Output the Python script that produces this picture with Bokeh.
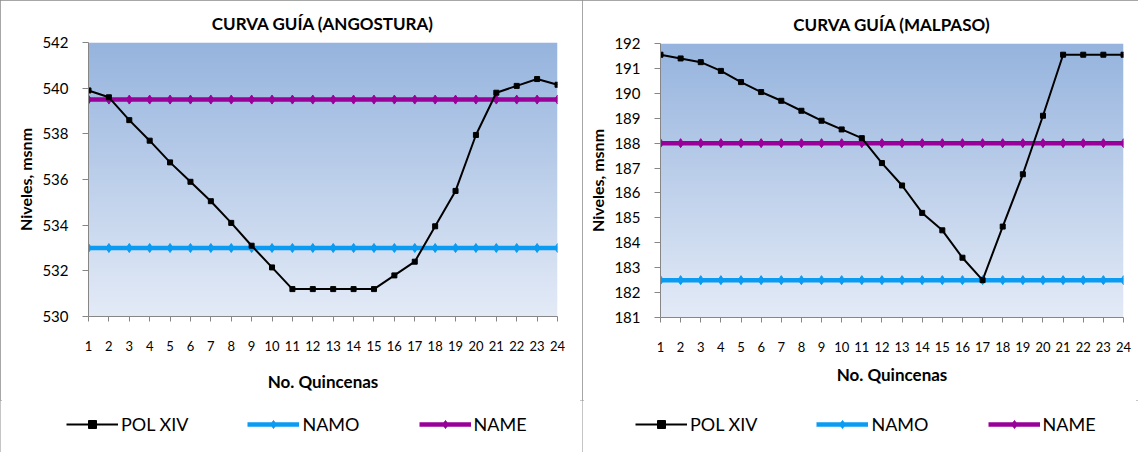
from bokeh.plotting import figure
from bokeh.models import Range1d, FixedTicker, Legend
from bokeh.layouts import row, column
from bokeh.embed import file_html
from bokeh.resources import INLINE
import numpy as np

# ---------------- data ----------------
quincenas = list(range(1, 25))
quincena_labels = [str(q) for q in quincenas]

ang_title = "CURVA GUÍA (ANGOSTURA)"
ang_pol = [539.9, 539.6, 538.6, 537.7, 536.75, 535.9, 535.05, 534.1, 533.1, 532.15,
           531.2, 531.2, 531.2, 531.2, 531.2, 531.8, 532.4, 533.95, 535.5, 537.95,
           539.8, 540.1, 540.4, 540.15]
ang_namo = [533.0, 533.0, 533.0, 533.0, 533.0, 533.0, 533.0, 533.0, 533.0, 533.0,
            533.0, 533.0, 533.0, 533.0, 533.0, 533.0, 533.0, 533.0, 533.0, 533.0,
            533.0, 533.0, 533.0, 533.0]
ang_name = [539.5, 539.5, 539.5, 539.5, 539.5, 539.5, 539.5, 539.5, 539.5, 539.5,
            539.5, 539.5, 539.5, 539.5, 539.5, 539.5, 539.5, 539.5, 539.5, 539.5,
            539.5, 539.5, 539.5, 539.5]
ang_ticks = [530, 532, 534, 536, 538, 540, 542]

mal_title = "CURVA GUÍA (MALPASO)"
mal_pol = [191.55, 191.4, 191.25, 190.9, 190.45, 190.05, 189.7, 189.3, 188.9, 188.55,
           188.2, 187.2, 186.3, 185.2, 184.5, 183.4, 182.5, 184.65, 186.75, 189.1,
           191.55, 191.55, 191.55, 191.55]
mal_namo = [182.5, 182.5, 182.5, 182.5, 182.5, 182.5, 182.5, 182.5, 182.5, 182.5,
            182.5, 182.5, 182.5, 182.5, 182.5, 182.5, 182.5, 182.5, 182.5, 182.5,
            182.5, 182.5, 182.5, 182.5]
mal_name = [188.0, 188.0, 188.0, 188.0, 188.0, 188.0, 188.0, 188.0, 188.0, 188.0,
            188.0, 188.0, 188.0, 188.0, 188.0, 188.0, 188.0, 188.0, 188.0, 188.0,
            188.0, 188.0, 188.0, 188.0]
mal_ticks = [181, 182, 183, 184, 185, 186, 187, 188, 189, 190, 191, 192]

series_names = ["POL XIV", "NAMO", "NAME"]
x_title = "No. Quincenas"
y_title = "Niveles, msnm"

FONT = "Lato"
C_POL = "#000000"
C_NAMO = "#0A9BF2"
C_NAME = "#990099"
AXIS_C = "#868686"
FRAME_STYLE = {"outline": "2px solid #8a8a8a", "outline-offset": "-2px"}


def gradient_image(n=256):
    top = np.array([150, 180, 222])
    bot = np.array([228, 235, 247])
    t = np.linspace(0, 1, n)[:, None]
    cols = (bot * (1 - t) + top * t).astype(np.uint32)
    img = np.zeros((n, 1), dtype=np.uint32)
    view = img.view(dtype=np.uint8).reshape((n, 1, 4))
    view[:, 0, 0] = cols[:, 0]
    view[:, 0, 1] = cols[:, 1]
    view[:, 0, 2] = cols[:, 2]
    view[:, 0, 3] = 255
    return img


def draw_series(p, pol, namo, name):
    r_namo_l = p.line(quincenas, namo, line_color=C_NAMO, line_width=4.5)
    r_namo_m = p.scatter(quincenas, namo, marker="diamond", size=9,
                         fill_color=C_NAMO, line_color=C_NAMO)
    r_name_l = p.line(quincenas, name, line_color=C_NAME, line_width=4.5)
    r_name_m = p.scatter(quincenas, name, marker="diamond", size=9,
                         fill_color=C_NAME, line_color=C_NAME)
    r_pol_l = p.line(quincenas, pol, line_color=C_POL, line_width=2)
    r_pol_m = p.scatter(quincenas, pol, marker="square", size=5,
                        fill_color=C_POL, line_color=C_POL)
    return [(series_names[0], [r_pol_l, r_pol_m]),
            (series_names[1], [r_namo_l, r_namo_m]),
            (series_names[2], [r_name_l, r_name_m])]


def make_chart(title, pol, namo, name, ticks, width, bl, br, bt, bb,
               xlab_standoff, leg_x):
    y0, y1 = ticks[0], ticks[-1]
    p = figure(width=width, height=400, output_backend="svg", toolbar_location=None,
               x_range=Range1d(quincenas[0], quincenas[-1]), y_range=Range1d(y0, y1),
               min_border_left=bl, min_border_right=br, min_border_top=bt,
               min_border_bottom=bb, title=title)
    p.frame_align = False
    p.background_fill_color = "white"
    p.border_fill_color = "white"
    p.outline_line_color = None
    p.grid.visible = False

    p.title.text_font = FONT
    p.title.text_font_size = "17px"
    p.title.text_font_style = "bold"
    p.title.align = "center"
    p.title.text_color = "black"
    p.title.standoff = 17

    p.image_rgba(image=[gradient_image()], x=quincenas[0], y=y0,
                 dw=quincenas[-1] - quincenas[0], dh=y1 - y0)

    xa = p.xaxis[0]
    xa.ticker = FixedTicker(ticks=quincenas)
    xa.major_label_overrides = {q: l for q, l in zip(quincenas, quincena_labels)}
    xa.minor_tick_line_color = None
    xa.major_tick_in = 0
    xa.major_tick_out = 5
    xa.axis_line_color = AXIS_C
    xa.major_tick_line_color = AXIS_C
    xa.major_label_text_font = FONT
    xa.major_label_text_font_size = "13px"
    xa.major_label_text_color = "black"
    xa.major_label_standoff = 19
    xa.axis_label = x_title
    xa.axis_label_text_font = FONT
    xa.axis_label_text_font_size = "17px"
    xa.axis_label_text_font_style = "bold"
    xa.axis_label_text_color = "black"
    xa.axis_label_standoff = xlab_standoff

    ya = p.yaxis[0]
    ya.ticker = FixedTicker(ticks=ticks)
    ya.minor_tick_line_color = None
    ya.major_tick_in = 0
    ya.major_tick_out = 6
    ya.axis_line_color = AXIS_C
    ya.major_tick_line_color = AXIS_C
    ya.major_label_text_font = FONT
    ya.major_label_text_font_size = "15px"
    ya.major_label_text_color = "black"
    ya.major_label_standoff = 14
    ya.axis_label = y_title
    ya.axis_label_text_font = FONT
    ya.axis_label_text_font_size = "16px"
    ya.axis_label_text_font_style = "bold"
    ya.axis_label_text_color = "black"
    ya.axis_label_standoff = 4

    draw_series(p, pol, namo, name)

    # legend strip below the chart (its own glyphs lie outside its view)
    lg = figure(width=width, height=52, output_backend="svg", toolbar_location=None,
                x_range=Range1d(0, 1), y_range=Range1d(0, 1),
                x_axis_type=None, y_axis_type=None,
                min_border_left=0, min_border_right=0, min_border_top=0,
                min_border_bottom=0)
    lg.frame_align = False
    lg.outline_line_color = None
    lg.grid.visible = False
    lg.background_fill_color = "white"
    lg.border_fill_color = "white"
    items = draw_series(lg, pol, namo, name)
    legend = Legend(items=items, orientation="horizontal", location=(leg_x, 17),
                    spacing=59, glyph_width=52, glyph_height=20, label_standoff=3,
                    label_text_font=FONT, label_text_font_size="18px",
                    label_text_color="black",
                    border_line_color=None, background_fill_alpha=0,
                    padding=0, margin=0)
    lg.add_layout(legend)

    col = column(p, lg, spacing=0)
    col.styles = FRAME_STYLE
    return col


left = make_chart(ang_title, ang_pol, ang_namo, ang_name, ang_ticks,
                  width=582, bl=88, br=25, bt=42, bb=84, xlab_standoff=17, leg_x=66)
right = make_chart(mal_title, mal_pol, mal_namo, mal_name, mal_ticks,
                   width=556, bl=78, br=15, bt=43, bb=83, xlab_standoff=9, leg_x=53)

layout = row(left, right, spacing=0)
open("out.html", "w").write(file_html(layout, INLINE))
